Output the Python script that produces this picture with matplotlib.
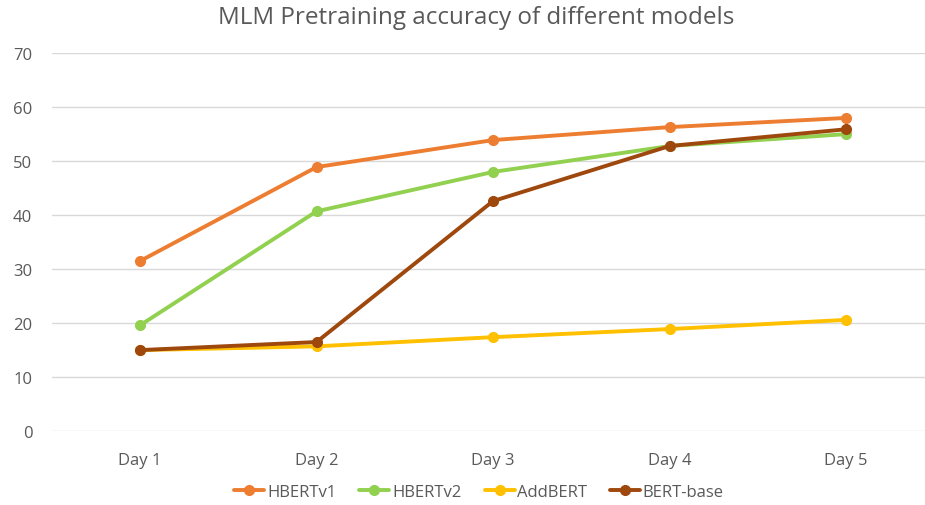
import matplotlib
matplotlib.use("Agg")
import matplotlib.pyplot as plt

# values
days = ["Day 1", "Day 2", "Day 3", "Day 4", "Day 5"]
hbertv1 = [31.5, 48.9, 53.9, 56.3, 58.0]
hbertv2 = [19.6, 40.7, 48.0, 52.8, 55.0]
addbert = [15.0, 15.7, 17.4, 18.9, 20.6]
bert_base = [15.0, 16.5, 42.6, 52.8, 55.9]

series = [("HBERTv1", hbertv1, "#ED7D31"),
          ("HBERTv2", hbertv2, "#92D050"),
          ("AddBERT", addbert, "#FFC000"),
          ("BERT-base", bert_base, "#9E480E")]

plt.rcParams["font.family"] = ["Open Sans", "DejaVu Sans"]

fig = plt.figure(figsize=(9.25, 5.06), dpi=100)
ax = fig.add_axes([0.056, 0.146, 0.954, 0.747])

x = range(len(days))
for name, vals, color in series:
    ax.plot(x, vals, color=color, lw=2.8, marker="o", markersize=7, label=name,
            solid_capstyle="round")

ax.set_xlim(-0.5, 4.5)
ax.set_ylim(0, 70)
ax.set_yticks(range(0, 71, 10))
ax.set_xticks(list(x))
ax.set_xticklabels(days)
ax.grid(axis="y", color="#D9D9D9", lw=1)
ax.set_axisbelow(True)
for s in ax.spines.values():
    s.set_visible(False)
ax.tick_params(length=0, labelsize=12, colors="#595959")
ax.tick_params(axis="x", pad=15)
ax.tick_params(axis="y", pad=14)

fig.text(0.515, 0.965, "MLM Pretraining accuracy of different models",
         ha="center", va="center", fontsize=17.5, color="#595959")

fig.legend(loc="lower center", ncol=4, frameon=False, fontsize=12,
           bbox_to_anchor=(0.518, -0.02), handlelength=1.8, columnspacing=1.4,
           handletextpad=0.15, labelcolor="#595959")

fig.savefig("out.png", dpi=100)
